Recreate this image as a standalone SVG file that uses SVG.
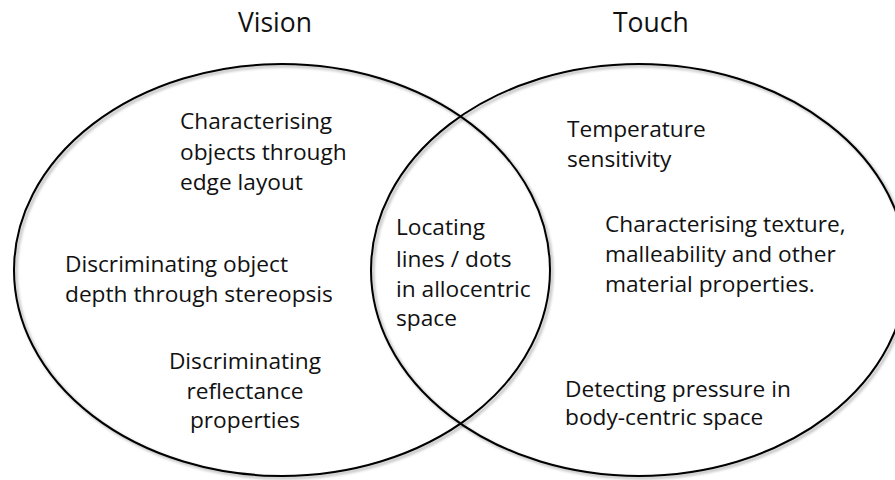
<svg xmlns="http://www.w3.org/2000/svg" width="895" height="480" viewBox="0 0 895 480">
  <style>
    .set { fill: none; stroke: #000; stroke-width: 2; filter: url(#shadow); }
    text { font-family: "Open Sans", "Noto Sans", sans-serif; font-size: 22.7px; fill: #111; }
    .title { font-size: 26.5px; }
    .mid { text-anchor: middle; }
  </style>
  <defs>
    <filter id="shadow" x="-5%" y="-5%" width="110%" height="110%">
      <feDropShadow dx="2" dy="2" stdDeviation="1.5" flood-color="#000" flood-opacity="0.35"/>
    </filter>
  </defs>
  <rect width="895" height="480" fill="#fff"/>
  <g id="connectors"></g>
  <g id="vision">
    <ellipse class="set" cx="282" cy="270" rx="268" ry="206"/>
    <text class="title" x="238" y="32">Vision</text>
    <text x="180" y="129">Characterising</text>
    <text x="180" y="160">objects through</text>
    <text x="180" y="190">edge layout</text>
    <text x="65" y="272">Discriminating object</text>
    <text x="65" y="302">depth through stereopsis</text>
    <text class="mid" x="245" y="369">Discriminating</text>
    <text class="mid" x="245" y="399">reflectance</text>
    <text class="mid" x="245" y="428">properties</text>
  </g>
  <g id="touch">
    <ellipse class="set" cx="639" cy="270" rx="268" ry="206"/>
    <text class="title" x="613" y="32">Touch</text>
    <text x="567" y="137">Temperature</text>
    <text x="567" y="167">sensitivity</text>
    <text x="605" y="232">Characterising texture,</text>
    <text x="605" y="262">malleability and other</text>
    <text x="605" y="292">material properties.</text>
    <text x="565" y="397">Detecting pressure in</text>
    <text x="565" y="425">body-centric space</text>
  </g>
  <g id="overlap">
    <text x="396" y="235">Locating</text>
    <text x="396" y="267">lines / dots</text>
    <text x="396" y="297">in allocentric</text>
    <text x="396" y="326">space</text>
  </g>
</svg>
